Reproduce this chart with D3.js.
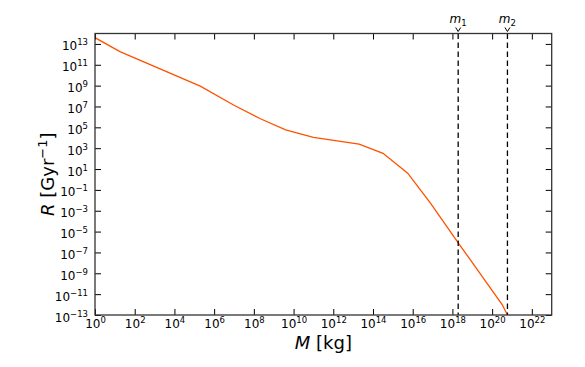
<!DOCTYPE html>
<html><head><meta charset="utf-8">
<script src="https://cdn.jsdelivr.net/npm/d3@7"></script>
<style>body{margin:0;background:#fff}svg{display:block}text{font-family:"DejaVu Sans",sans-serif}</style>
</head><body>
<svg id="c" width="585" height="367"></svg>
<script>
// Mass grid (kg) and rate (Gyr^-1)
const masses = [1e0, 1.8e1, 2.0e5, 1.0e7, 2.0e8, 4.0e9, 1.0e11, 2.0e13, 3.2e14, 5.6e15, 8.0e16, 2.0e18, 3.2e20, 5.9e20];
const rates  = [4.0e13, 1.8e12, 9.0e8, 1.3e7, 7.0e5, 5.6e4, 1.1e4, 2.5e3, 3.2e2, 4.0e0, 5.0e-3, 8.0e-7, 1.0e-12, 1.0e-13];
const markerNames = ["1", "2"];
const markerMasses = [1.95e18, 5.9e20];
const xTickExps = [0,2,4,6,8,10,12,14,16,18,20,22];
const yTickExps = [-13,-11,-9,-7,-5,-3,-1,1,3,5,7,9,11,13];

const L = 95, R = 551.7, T = 33.5, B = 315;
const svg = d3.select("#c");
const x = d3.scaleLog().domain([1, 1e23]).range([L, R]);
const y = d3.scaleLog().domain([1e-13, 1e14]).range([B, T]);

svg.append("defs").append("clipPath").attr("id","clip")
  .append("rect").attr("x",L).attr("y",T).attr("width",R-L).attr("height",B-T);

// curve
svg.append("path")
  .datum(masses.map((m,i)=>[m,rates[i]]))
  .attr("clip-path","url(#clip)")
  .attr("fill","none").attr("stroke","#ff5200").attr("stroke-width",1.3)
  .attr("d", d3.line().x(d=>x(d[0])).y(d=>y(d[1])));

// dashed marker lines
markerMasses.forEach((m,i)=>{
  const px = x(m);
  svg.append("line").attr("x1",px).attr("x2",px).attr("y1",T).attr("y2",B)
    .attr("stroke","#000").attr("stroke-width",1.3).attr("stroke-dasharray","5.5,3.5");
  svg.append("path").attr("d",`M${px-2.5},${27.5}L${px},${31.5}L${px+2.5},${27.5}`)
    .attr("fill","none").attr("stroke","#000").attr("stroke-width",1);
  const t = svg.append("text").attr("x",px).attr("y",23).attr("text-anchor","middle").attr("font-size",12);
  t.append("tspan").attr("font-style","italic").text("m");
  t.append("tspan").attr("font-size",8.5).attr("dy",2.5).text(markerNames[i]);
});

function supLabel(sel, exp){
  sel.text(null);
  sel.append("tspan").text("10");
  sel.append("tspan").attr("font-size",8.5).attr("dy",-5).text(exp<0 ? "\u2212"+(-exp) : String(exp));
}

const xTicks = xTickExps.map(e=>Math.pow(10,e));
const yTicks = yTickExps.map(e=>Math.pow(10,e));

// bottom axis
const gb = svg.append("g").attr("transform",`translate(0,${B})`)
  .call(d3.axisBottom(x).tickValues(xTicks).tickSizeInner(-6).tickSizeOuter(0).tickPadding(4));
gb.selectAll("text").each(function(d,i){ supLabel(d3.select(this), xTickExps[i]); })
  .attr("font-size",12).attr("font-family","DejaVu Sans").attr("fill","#000");
// top axis
svg.append("g").attr("transform",`translate(0,${T})`)
  .call(d3.axisTop(x).tickValues(xTicks).tickSizeInner(-6).tickSizeOuter(0).tickFormat(""));
// left axis
const gl = svg.append("g").attr("transform",`translate(${L},0)`)
  .call(d3.axisLeft(y).tickValues(yTicks).tickSizeInner(-6).tickSizeOuter(0).tickPadding(7));
gl.selectAll("text").each(function(d,i){ supLabel(d3.select(this), yTickExps[i]); })
  .attr("font-size",12).attr("font-family","DejaVu Sans").attr("fill","#000").attr("dy","0.5em");
// right axis
svg.append("g").attr("transform",`translate(${R},0)`)
  .call(d3.axisRight(y).tickValues(yTicks).tickSizeInner(-6).tickSizeOuter(0).tickFormat(""));

svg.selectAll(".domain").remove();
svg.selectAll(".tick line").attr("stroke","#000").attr("stroke-width",1);
svg.append("rect").attr("x",L).attr("y",T).attr("width",R-L).attr("height",B-T)
  .attr("fill","none").attr("stroke","#333").attr("stroke-width",1.3);

// axis labels
const xl = svg.append("text").attr("x",(L+R)/2).attr("y",349).attr("text-anchor","middle").attr("font-size",18);
xl.append("tspan").attr("font-style","italic").text("M");
xl.append("tspan").text(" [kg]");

const yl = svg.append("text").attr("transform",`translate(54,${(T+B)/2}) rotate(-90)`)
  .attr("text-anchor","middle").attr("font-size",18);
yl.append("tspan").attr("font-style","italic").text("R");
yl.append("tspan").text(" [Gyr");
yl.append("tspan").attr("font-size",13).attr("dy",-7).text("\u22121");
yl.append("tspan").attr("dy",7).text("]");
</script>
</body></html>
